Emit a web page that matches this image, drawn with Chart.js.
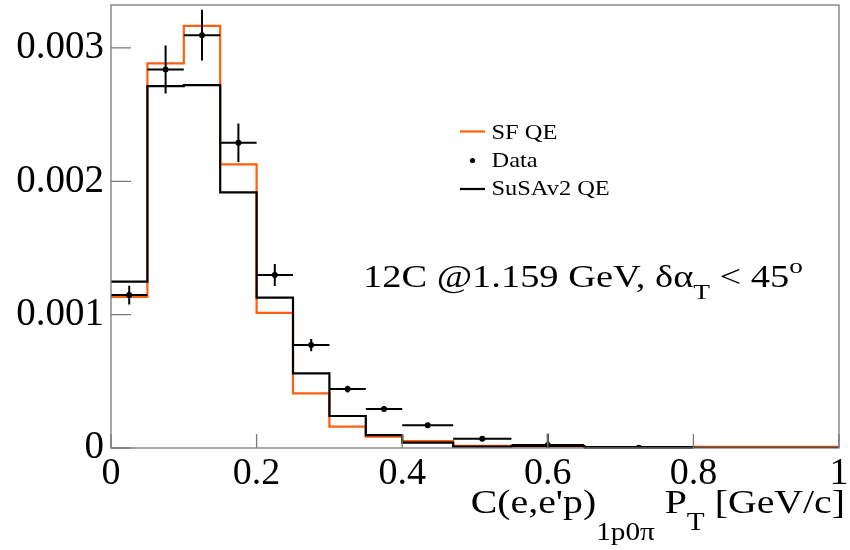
<!DOCTYPE html>
<html>
<head>
<meta charset="utf-8">
<script src="https://cdn.jsdelivr.net/npm/chart.js@4.4.1/dist/chart.umd.min.js"></script>
<style>
  html, body { margin: 0; padding: 0; background: #fff; }
  #wrap { width: 850px; height: 550px; }
</style>
</head>
<body>
<div id="wrap"><canvas id="chart" width="850" height="550"></canvas></div>
<script>
// Bin edges of the histograms (GeV/c)
const binEdges = [0, 0.05, 0.1, 0.15, 0.2, 0.25, 0.3, 0.35, 0.4, 0.47, 0.55, 0.65, 0.8, 1.0];

// SF QE prediction (orange)
const sfQE = [0.001134, 0.002884, 0.003166, 0.002127, 0.001014, 0.00041, 0.00016, 0.000085,
              0.000052, 0.000017, 0.000012, 0.000006, 0.000008];

// SuSAv2 QE prediction (black)
const susaQE = [0.001247, 0.002714, 0.002721, 0.001917, 0.001127, 0.00056, 0.00024, 0.000097,
                0.00004, 0.00001, 0.000015, 0.000007, 0.000002];

// Data points (one per bin, last bin empty) and their errors
const dataVals = [0.001147, 0.002839, 0.003096, 0.002289, 0.001297, 0.000772, 0.000442, 0.000292,
                  0.00017, 0.00007, 0.000022, 0.000001];
const dataErrs = [0.00007, 0.00018, 0.00019, 0.000145, 0.000083, 0.000046, 0.000025, 0.000015,
                  0.000012, 0.00001, 0.000085, 0];

const xTicks = [0, 0.2, 0.4, 0.6, 0.8, 1];
const yTicks = [0, 0.001, 0.002, 0.003];

const SERIF = "'Liberation Serif', 'DejaVu Serif', serif";
const ORANGE = '#ff5f0f';

function histPoints(vals) {
    // step line: one point per left edge, plus the last right edge
    const pts = vals.map((v, i) => ({ x: binEdges[i], y: v }));
    pts.push({ x: binEdges[vals.length], y: vals[vals.length - 1] });
    return pts;
}

const dataPoints = dataVals.map((v, i) => ({ x: (binEdges[i] + binEdges[i + 1]) / 2, y: v }));

// text runs [text, size, dy], drawn with a horizontal stretch sx
function runsWidth(ctx, runs) {
    let w = 0;
    runs.forEach(r => { ctx.font = r[1] + 'px ' + SERIF; w += ctx.measureText(r[0]).width; });
    return w;
}
function drawRuns(ctx, runs, x, y, sx) {
    sx = sx || 1;
    ctx.save();
    ctx.translate(x, y);
    ctx.scale(sx, 1);
    ctx.textAlign = 'left';
    ctx.textBaseline = 'alphabetic';
    let cx = 0;
    runs.forEach(r => {
        ctx.font = r[1] + 'px ' + SERIF;
        ctx.fillText(r[0], cx, r[2]);
        cx += ctx.measureText(r[0]).width;
    });
    ctx.restore();
}

const rootStyle = {
    id: 'rootStyle',
    afterDatasetsDraw(chart) {
        const ctx = chart.ctx;
        const xs = chart.scales.x, ys = chart.scales.y;
        const a = chart.chartArea;
        ctx.save();

        // error bars of the data
        ctx.strokeStyle = '#000';
        ctx.lineWidth = 2;
        dataVals.forEach((v, i) => {
            const py = ys.getPixelForValue(v);
            const x0 = xs.getPixelForValue(binEdges[i]);
            const x1 = xs.getPixelForValue(binEdges[i + 1]);
            const px = xs.getPixelForValue(dataPoints[i].x);
            ctx.beginPath();
            ctx.moveTo(x0, py); ctx.lineTo(x1, py);
            if (dataErrs[i] > 0) {
                ctx.moveTo(px, ys.getPixelForValue(Math.min(v + dataErrs[i], ys.max)));
                ctx.lineTo(px, ys.getPixelForValue(Math.max(v - dataErrs[i], 0)));
            }
            ctx.stroke();
        });

        // frame and inner ticks
        ctx.strokeStyle = '#7a7a7a';
        ctx.lineWidth = 1.3;
        ctx.strokeRect(a.left, a.top, a.right - a.left, a.bottom - a.top);
        ctx.beginPath();
        yTicks.forEach(t => {
            const py = ys.getPixelForValue(t);
            ctx.moveTo(a.left, py); ctx.lineTo(a.left + 20, py);
        });
        xTicks.forEach(t => {
            const px = xs.getPixelForValue(t);
            ctx.moveTo(px, a.bottom); ctx.lineTo(px, a.bottom - 14);
        });
        ctx.stroke();

        // legend
        ctx.lineWidth = 2.2;
        ctx.strokeStyle = ORANGE;
        ctx.beginPath(); ctx.moveTo(460, 131.5); ctx.lineTo(485, 131.5); ctx.stroke();
        ctx.strokeStyle = '#000';
        ctx.beginPath(); ctx.moveTo(460, 189); ctx.lineTo(485, 189); ctx.stroke();
        ctx.fillStyle = '#000';
        ctx.beginPath(); ctx.arc(472.5, 160.5, 2.6, 0, Math.PI * 2); ctx.fill();
        drawRuns(ctx, [['SF QE', 22, 0]], 491.5, 138.5, 1.11);
        drawRuns(ctx, [['Data', 22, 0]], 491.5, 166.5, 1.11);
        drawRuns(ctx, [['SuSAv2 QE', 22, 0]], 491.5, 195, 1.11);

        // annotation
        drawRuns(ctx, [
            ['12C @1.159 GeV, \u03b4\u03b1', 31, 0],
            ['T', 22, 12],
            [' < 45', 31, 0],
            ['o', 22, -14]
        ], 363, 287, 1.24);

        // x axis title, right aligned
        const title = [
            ['C(e,e\'p)', 34, 0],
            ['1p0\u03c0', 25, 27],
            [' P', 34, 0],
            ['T', 25, 17],
            [' [GeV/c]', 34, 0]
        ];
        const sxT = 1.17;
        drawRuns(ctx, title, 845 - runsWidth(ctx, title) * sxT, 513, sxT);

        ctx.restore();
    }
};

new Chart(document.getElementById('chart'), {
    type: 'line',
    data: {
        datasets: [
            {
                label: 'Data',
                data: dataPoints,
                showLine: false,
                pointRadius: 3,
                pointBackgroundColor: '#000',
                pointBorderWidth: 0,
                order: 0
            },
            {
                label: 'SuSAv2 QE',
                data: histPoints(susaQE),
                stepped: 'before',
                borderColor: '#000',
                borderWidth: 2.2,
                pointRadius: 0,
                fill: false,
                order: 1
            },
            {
                label: 'SF QE',
                data: histPoints(sfQE),
                stepped: 'before',
                borderColor: ORANGE,
                borderWidth: 2.2,
                pointRadius: 0,
                fill: false,
                order: 2
            }
        ]
    },
    options: {
        responsive: false,
        animation: false,
        devicePixelRatio: 1,
        layout: { padding: { left: 0, right: 11, top: 5, bottom: 0 } },
        plugins: {
            legend: { display: false },
            tooltip: { enabled: false }
        },
        scales: {
            x: {
                type: 'linear',
                min: 0,
                max: 1,
                grid: { display: false, drawTicks: false },
                border: { display: false },
                ticks: {
                    stepSize: 0.2,
                    includeBounds: false,
                    maxRotation: 0,
                    padding: 3,
                    color: '#000',
                    font: { family: SERIF, size: 38 },
                    callback: v => (v === 0 ? '0' : Math.abs(v - 1) < 1e-9 ? '1' : v.toFixed(1))
                },
                afterFit: s => { s.height = 102; s.paddingLeft = 0; s.paddingRight = 0; }
            },
            y: {
                type: 'linear',
                min: 0,
                max: 0.003322,
                grid: { display: false, drawTicks: false },
                border: { display: false },
                ticks: {
                    stepSize: 0.001,
                    includeBounds: false,
                    padding: 7,
                    color: '#000',
                    font: { family: SERIF, size: 39 },
                    callback: v => (v === 0 ? '0' : v.toFixed(3))
                },
                afterFit: s => { s.width = 111; s.paddingTop = 0; s.paddingBottom = 0; }
            }
        }
    },
    plugins: [rootStyle]
});
</script>
</body>
</html>
